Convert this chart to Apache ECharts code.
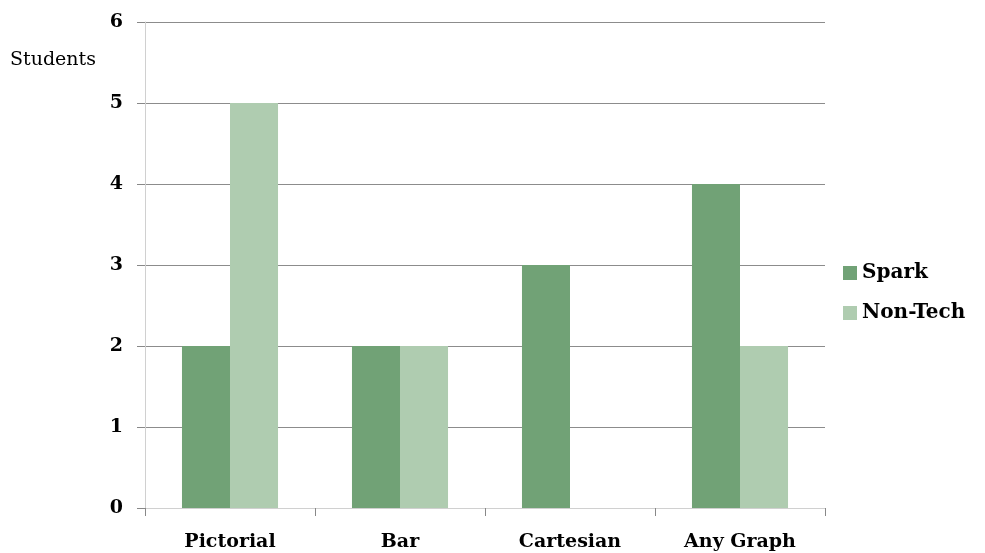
<!DOCTYPE html>
<html>
<head>
<meta charset="utf-8">
<script src="https://cdn.jsdelivr.net/npm/echarts@6/dist/echarts.min.js"></script>
<style>
  html, body { margin: 0; padding: 0; background: #fff; }
  #chart { width: 985px; height: 553px; }
</style>
</head>
<body>
<div id="chart"></div>
<script>
const categories = ['Pictorial', 'Bar', 'Cartesian', 'Any Graph']
const sparkValues = [2, 2, 3, 4]
const nonTechValues = [5, 2, 0, 2]
const yTicks = [0, 1, 2, 3, 4, 5, 6]

const font = '"DejaVu Serif", "Liberation Serif", serif'

const chart = echarts.init(document.getElementById('chart'))

chart.setOption({
  animation: false,
  textStyle: { fontFamily: font },
  grid: { left: 145, right: 160, top: 22, bottom: 45, containLabel: false },
  legend: {
    orient: 'vertical',
    left: 838,
    top: 258,
    itemWidth: 14,
    itemHeight: 14,
    itemGap: 20,
    icon: 'rect',
    textStyle: { fontFamily: font, fontWeight: 'bold', fontSize: 20, color: '#000' },
    data: ['Spark', 'Non-Tech']
  },
  graphic: [{
    type: 'text',
    left: 10,
    top: 51,
    style: { text: 'Students', font: '19px ' + font, fill: '#000' }
  }],
  xAxis: {
    type: 'category',
    data: categories,
    axisLine: { lineStyle: { color: '#d0d0d0', width: 1 } },
    axisTick: { show: true, length: 8, lineStyle: { color: '#888' } },
    axisLabel: { margin: 25, fontFamily: font, fontWeight: 'bold', fontSize: 19, color: '#000' }
  },
  yAxis: {
    type: 'value',
    min: 0,
    max: 6,
    interval: 1,
    axisLine: { show: true, lineStyle: { color: '#d0d0d0', width: 1 } },
    axisTick: { show: true, length: 8, lineStyle: { color: '#888' } },
    axisLabel: {
      margin: 22,
      fontFamily: font,
      fontWeight: 'bold',
      fontSize: 19,
      color: '#000',
      formatter: v => yTicks.includes(v) ? String(v) : ''
    },
    splitLine: { lineStyle: { color: '#8c8c8c', width: 1 } }
  },
  series: [
    {
      name: 'Spark',
      type: 'bar',
      data: sparkValues,
      barGap: '0%',
      barCategoryGap: '43.5%',
      itemStyle: { color: '#71a276' }
    },
    {
      name: 'Non-Tech',
      type: 'bar',
      data: nonTechValues,
      itemStyle: { color: '#afccb0' }
    }
  ]
})
</script>
</body>
</html>
